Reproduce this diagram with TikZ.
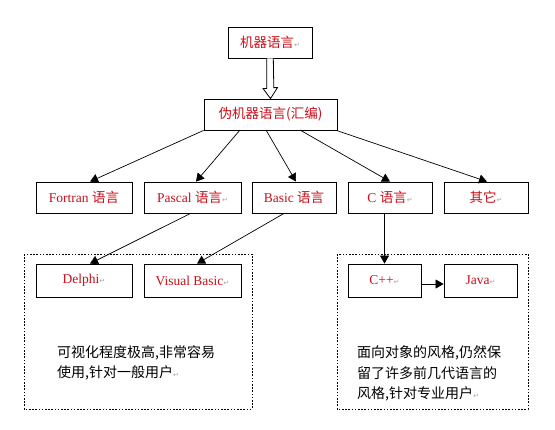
\documentclass[tikz,border=0pt]{standalone}
\usepackage{fontspec}
\setmainfont{Liberation Serif}
\newfontfamily\cjk{Noto Sans CJK SC}
\newfontfamily\symf{DejaVu Sans}
\usetikzlibrary{arrows.meta,calc}
\definecolor{labelred}{HTML}{C8101A}
\newcommand\pmark{{\symf\color{black!35}\fontsize{7}{7}\selectfont ↵}}
\tikzset{
  box/.style={draw, line width=0.8pt, inner sep=0pt, minimum height=31pt,
    text=labelred, font=\fontsize{13.5}{15}\selectfont},
  lowbox/.style={box, minimum height=33pt},
  conn/.style={line width=0.7pt, -{Triangle[length=8pt,width=9pt]}},
  group/.style={line width=0.8pt, dash pattern=on 1.6pt off 1.6pt},
  body/.style={inner sep=0pt, anchor=west, align=left,
    font=\cjk\fontsize{14}{20.5}\selectfont}
}
\begin{document}
\begin{tikzpicture}[x=1pt,y=-1pt]
\useasboundingbox[fill=white] (0,0) rectangle (555,429);

% top
\node[box, minimum width=84pt] (m) at (270,42.5) {\cjk 机器语言\pmark};
\node[box, minimum width=133pt] (w) at (270.5,114.5) {\cjk 伪机器语言(汇编)};

% hollow arrow
\draw[line width=0.8pt, fill=white]
  ([xshift=-3.3pt]m.south) -- ++(0,30) -- ++(-3.7,0) -- (w.north)
  -- ++(7,-11) -- ++(-3.7,0) -- ([xshift=3.3pt]m.south);

% row 2
\node[box, minimum width=96pt] (fortran) at (84,197.5) {Fortran {\cjk 语言}};
\node[box, minimum width=97pt] (pascal) at (192.5,197.5) {Pascal {\cjk 语言}\pmark};
\node[box, minimum width=84pt] (basic) at (294,197.5) {Basic {\cjk 语言}};
\node[box, minimum width=84pt] (c) at (390,197.5) {C {\cjk 语言}\pmark};
\node[box, minimum width=84pt] (other) at (486,197.5) {\cjk 其它\pmark};

\coordinate (s2) at (240,130);
\coordinate (s3) at (266,130);
\coordinate (s4) at (300,130);

\draw[conn] (w.south west) -- ([xshift=6pt]fortran.north);
\draw[conn] (s2) -- ([xshift=3.5pt]pascal.north);
\draw[conn] (s3) -- ([xshift=2pt]basic.north);
\draw[conn] (s4) -- (c.north);
\draw[conn] ([xshift=-1pt]w.south east) -- ([xshift=1pt]other.north);

% groups
\draw[group] (24,254) rectangle (252,409);
\draw[group] (337,254) rectangle (528,409);

% row 3
\node[lowbox, minimum width=96pt] (delphi) at (84,280.5) {Delphi\pmark};
\node[lowbox, minimum width=97pt] (vb) at (192.5,280.5) {Visual Basic\pmark};
\node[lowbox, minimum width=73pt] (cpp) at (384.5,280.5) {C++\pmark};
\node[lowbox, minimum width=73pt] (java) at (480.5,280.5) {Java\pmark};

\draw[conn] ([xshift=-2pt]pascal.south) -- ([xshift=6pt]delphi.north);
\draw[conn] ([xshift=-10pt]basic.south) -- ([xshift=4.5pt]vb.north);
\draw[conn] (c.south -| cpp.north) -- (cpp.north);
\draw[conn] ([yshift=-3.5pt]cpp.east) -- ([yshift=-3.5pt]java.west);

% texts
\node[body] (lt) at (57,363) {可视化程度极高,非常容易\\使用,针对一般用户\pmark};
\node[body] (rt) at (357,373.5) {面向对象的风格,仍然保\\留了许多前几代语言的\\风格,针对专业用户\pmark};
\end{tikzpicture}
\end{document}
